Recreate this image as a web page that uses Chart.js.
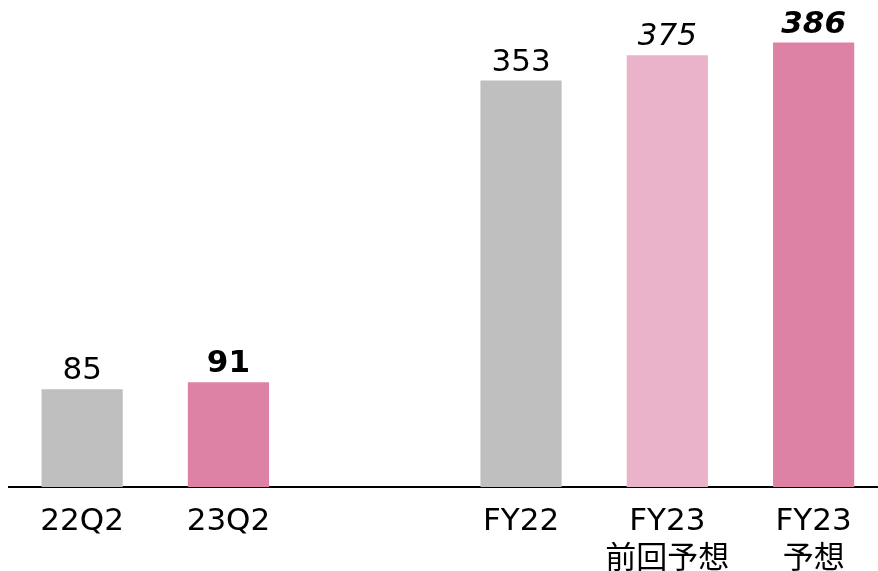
<!DOCTYPE html>
<html>
<head>
<meta charset="utf-8">
<script src="https://cdn.jsdelivr.net/npm/chart.js@4/dist/chart.umd.min.js"></script>
<style>
  html, body { margin: 0; padding: 0; background: #fff; overflow: hidden; }
  #wrap { width: 878px; height: 571px; }
</style>
</head>
<body>
<div id="wrap"><canvas id="myChart"></canvas></div>
<script>
'use strict';

//////////////////////
// data
//////////////////////

// the empty slot keeps the gap between the quarter and the full-year bars
const categories = [['22Q2'], ['23Q2'], [''], ['FY22'], ['FY23', '前回予想'], ['FY23', '予想']];
const values = [85, 91, null, 353, 375, 386];
const barColors = ['#bfbfbf', '#de82a5', null, '#bfbfbf', '#ebb3ca', '#de82a5'];
const labelStyles = ['normal', 'bold', null, 'normal', 'italic', 'italic bold'];

const fontFamily = "'DejaVu Sans', 'Noto Sans CJK JP', sans-serif";

//////////////////////
// chart
//////////////////////

const points = [];
const colors = [];
const styles = [];
for (let i = 0; i < values.length; i++) {
  if (values[i] === null) continue;
  points.push({ x: i, y: values[i] });
  colors.push(barColors[i]);
  styles.push(labelStyles[i]);
}

// value labels drawn above each bar
const valueLabels = {
  id: 'valueLabels',
  afterDatasetsDraw(chart) {
    const ctx = chart.ctx;
    const meta = chart.getDatasetMeta(0);
    ctx.save();
    ctx.fillStyle = '#000';
    ctx.textAlign = 'center';
    ctx.textBaseline = 'alphabetic';
    meta.data.forEach((bar, i) => {
      ctx.font = styles[i] + ' 31px ' + fontFamily;
      ctx.fillText(String(points[i].y), bar.x, bar.y - 10);
    });
    ctx.restore();
  }
};

const config = {
  type: 'bar',
  data: {
    datasets: [{
      data: points,
      backgroundColor: colors,
      borderWidth: 0,
      categoryPercentage: 1,
      barPercentage: 0.555
    }]
  },
  options: {
    responsive: true,
    maintainAspectRatio: false,
    animation: false,
    layout: { padding: { left: 9, right: 0, top: 0, bottom: 0 } },
    plugins: {
      legend: { display: false },
      tooltip: { enabled: false }
    },
    scales: {
      x: {
        type: 'linear',
        offset: false,
        min: -0.5,
        max: 5.44,
        grid: { display: false },
        border: { display: true, color: '#000', width: 2 },
        afterBuildTicks(scale) {
          scale.ticks = categories
            .map((c, i) => ({ value: i }))
            .filter(t => values[t.value] !== null);
        },
        afterFit(scale) {
          scale.height = 84;
        },
        ticks: {
          autoSkip: false,
          maxRotation: 0,
          padding: 8,
          color: '#000',
          font: { family: fontFamily, size: 31, lineHeight: 1.22 },
          callback: (value) => categories[value] || ''
        }
      },
      y: {
        display: false,
        min: 0,
        max: 423
      }
    }
  },
  plugins: [valueLabels]
};

const myChart = new Chart(document.getElementById('myChart'), config);
</script>
</body>
</html>
